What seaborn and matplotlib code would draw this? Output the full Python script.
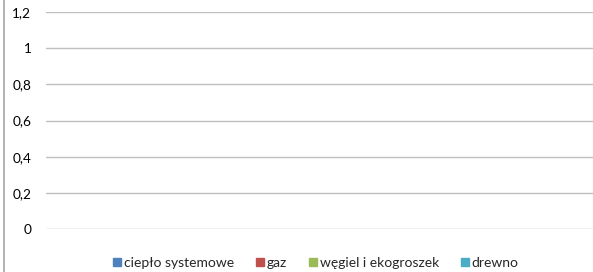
import matplotlib
matplotlib.use("Agg")
import matplotlib.pyplot as plt
import seaborn as sns
import pandas as pd
from matplotlib.lines import Line2D

# dane (wykres pusty - brak wartosci)
kategorie = [""]
serie = ["ciepło systemowe", "gaz", "węgiel i ekogroszek", "drewno"]
wartosci = [0, 0, 0, 0]
kolory = ["#4F81BD", "#C0504D", "#9BBB59", "#4BACC6"]
y_ticks = [0, 0.2, 0.4, 0.6, 0.8, 1, 1.2]
y_labels = ["0", "0,2", "0,4", "0,6", "0,8", "1", "1,2"]

sns.set_theme(style="white")
plt.rcParams["font.family"] = ["Lato", "DejaVu Sans"]

df = pd.DataFrame({
    "kategoria": kategorie * len(serie),
    "seria": serie,
    "wartosc": wartosci,
})

fig = plt.figure(figsize=(5.93, 2.72), dpi=100)
ax = fig.add_axes([46 / 593, 1 - 229 / 272, 1 - 46 / 593, (229 - 12) / 272])

sns.barplot(data=df, x="kategoria", y="wartosc", hue="seria", palette=kolory,
            linewidth=0, ax=ax, legend=False)

ax.set_ylim(0, 1.2)
ax.set_yticks(y_ticks)
ax.set_yticklabels(y_labels, fontsize=9.8, color="#000000")
ax.tick_params(axis="y", length=0, pad=10.5)
ax.set_xticks([])
ax.set_xlabel("")
ax.set_ylabel("")
ax.grid(axis="y", color="#bfbfbf", linewidth=1.0)
ax.set_axisbelow(True)
for s in ax.spines.values():
    s.set_visible(False)

# legenda
uchwyty = [Line2D([0], [0], marker="s", linestyle="", markersize=6,
                  markerfacecolor=k, markeredgecolor=k) for k in kolory]
fig.legend(uchwyty, serie, loc="center", bbox_to_anchor=(315 / 593, 1 - 263 / 272),
           ncol=4, frameon=False, fontsize=10, handletextpad=0.1,
           columnspacing=1.45, handlelength=0.8)

# ramka wykresu (lewa krawedz)
fig.add_artist(Line2D([3.5 / 593, 3.5 / 593], [0, 1], color="#a6a6a6", linewidth=1.2))

fig.savefig("out.png", dpi=100)
